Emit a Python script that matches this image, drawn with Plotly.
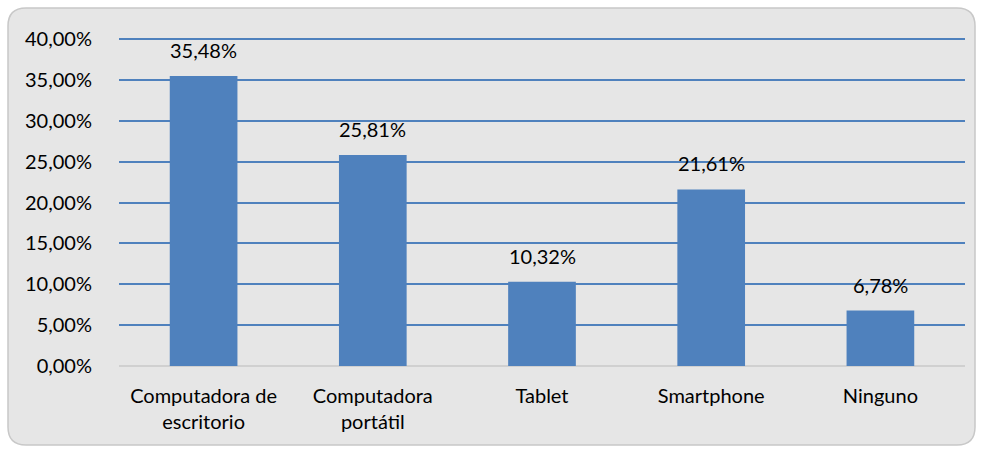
import plotly.graph_objects as go

categories = ["Computadora de<br>escritorio", "Computadora<br>portátil", "Tablet", "Smartphone", "Ninguno"]
values = [0.3548, 0.2581, 0.1032, 0.2161, 0.0678]
tick_vals = [0, 0.05, 0.10, 0.15, 0.20, 0.25, 0.30, 0.35, 0.40]

W, H = 983, 452
YMAX = 0.405
B = 86
ph = round(327 * YMAX / 0.40)
L, R, T = 119, 18, H - B - ph
pw = W - L - R

def px_x(x):
    return (x - L) / pw

def px_y(y):
    return (H - B - y) / ph

x0, x1, y0, y1 = px_x(8), px_x(975), px_y(445), px_y(8)
rx, ry = 18 / pw, 18 / ph
path = (f"M {x0+rx},{y1} L {x1-rx},{y1} Q {x1},{y1} {x1},{y1-ry} "
        f"L {x1},{y0+ry} Q {x1},{y0} {x1-rx},{y0} L {x0+rx},{y0} "
        f"Q {x0},{y0} {x0},{y0+ry} L {x0},{y1-ry} Q {x0},{y1} {x0+rx},{y1} Z")

FS = 20
fig = go.Figure(go.Bar(
    x=categories, y=values,
    marker=dict(color="#4F81BD", line=dict(width=0)),
    width=0.4,
))

for c, v in zip(categories, values):
    fig.add_annotation(x=c, y=v, text=f"{v*100:.2f}%".replace(".", ","),
                       showarrow=False, yanchor="bottom", yshift=12,
                       font=dict(size=FS, color="#000000", family="Lato"))

fig.update_layout(
    width=W, height=H,
    margin=dict(l=L, r=R, t=T, b=B),
    paper_bgcolor="white", plot_bgcolor="rgba(0,0,0,0)",
    separators=",.",
    font=dict(family="Lato", size=FS, color="#000000"),
    showlegend=False,
    shapes=[dict(type="path", path=path, xref="paper", yref="paper",
                 fillcolor="#e6e6e6", line=dict(color="#c8c8c8", width=1.5),
                 layer="below")],
    yaxis=dict(range=[0, YMAX], tickvals=tick_vals, tickformat=".2%",
               showgrid=True, gridcolor="#4F81BD", gridwidth=1.5,
               zeroline=True, zerolinecolor="#d0d0d0", zerolinewidth=1.5,
               showline=False, ticks="", ticklabelstandoff=26,
               tickfont=dict(size=FS)),
    xaxis=dict(showgrid=False, showline=False, ticks="", ticklabelstandoff=16,
               tickfont=dict(size=FS)),
    bargap=0.6,
)

fig.write_html("out.html", config={"displayModeBar": False},
               post_script="document.body.style.margin='0';")
